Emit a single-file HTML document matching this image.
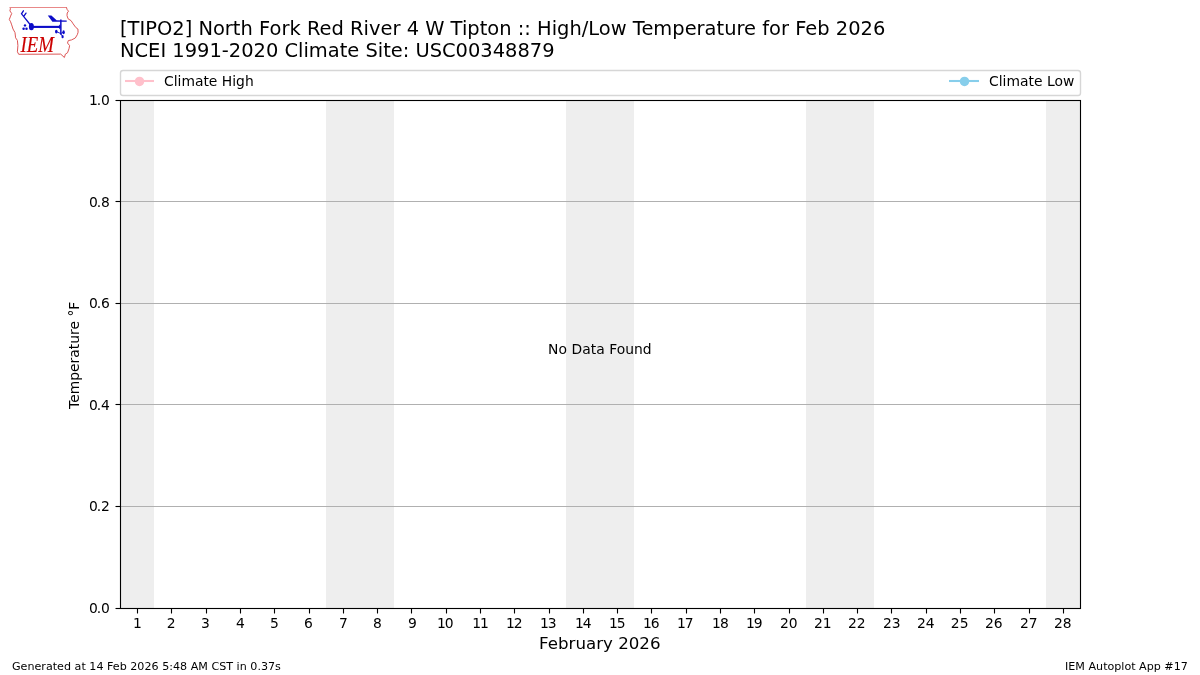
<!DOCTYPE html>
<html lang="en"><head><meta charset="utf-8"><title>IEM Autoplot App #17</title>
<style>html,body{margin:0;padding:0;background:#fff;overflow:hidden;}svg{display:block;}text{font-family:"DejaVu Sans","Liberation Sans",sans-serif;fill:#000;}</style></head><body>
<svg width="1200" height="675" viewBox="0 0 1200 675">
<rect width="1200" height="675" fill="#fff"/>
<rect x="120" y="101" width="34" height="508" fill="#eeeeee"/>
<rect x="326" y="101" width="68" height="508" fill="#eeeeee"/>
<rect x="566" y="101" width="68" height="508" fill="#eeeeee"/>
<rect x="806" y="101" width="68" height="508" fill="#eeeeee"/>
<rect x="1046" y="101" width="34" height="508" fill="#eeeeee"/>
<line x1="120.5" x2="1080.5" y1="506.5" y2="506.5" stroke="#b0b0b0" stroke-width="1.11"/>
<line x1="120.5" x2="1080.5" y1="404.5" y2="404.5" stroke="#b0b0b0" stroke-width="1.11"/>
<line x1="120.5" x2="1080.5" y1="303.5" y2="303.5" stroke="#b0b0b0" stroke-width="1.11"/>
<line x1="120.5" x2="1080.5" y1="201.5" y2="201.5" stroke="#b0b0b0" stroke-width="1.11"/>
<rect x="120.5" y="100.5" width="960.0" height="508.0" fill="none" stroke="#000" stroke-width="1.11"/>
<line x1="115.50" x2="120.5" y1="608.5" y2="608.5" stroke="#000" stroke-width="1.11"/>
<text x="89.0 96.85 101.1" y="613" font-size="13.89">0.0</text>
<line x1="115.50" x2="120.5" y1="506.5" y2="506.5" stroke="#000" stroke-width="1.11"/>
<text x="89.0 96.85 101.1" y="511" font-size="13.89">0.2</text>
<line x1="115.50" x2="120.5" y1="404.5" y2="404.5" stroke="#000" stroke-width="1.11"/>
<text x="89.0 96.85 101.1" y="410" font-size="13.89">0.4</text>
<line x1="115.50" x2="120.5" y1="303.5" y2="303.5" stroke="#000" stroke-width="1.11"/>
<text x="89.0 96.85 101.1" y="308" font-size="13.89">0.6</text>
<line x1="115.50" x2="120.5" y1="201.5" y2="201.5" stroke="#000" stroke-width="1.11"/>
<text x="89.0 96.85 101.1" y="207" font-size="13.89">0.8</text>
<line x1="115.50" x2="120.5" y1="100.5" y2="100.5" stroke="#000" stroke-width="1.11"/>
<text x="89.0 96.85 101.1" y="105" font-size="13.89">1.0</text>
<line x1="137.5" x2="137.5" y1="608.5" y2="613.50" stroke="#000" stroke-width="1.11"/>
<text x="137.37" y="628" font-size="13.89" text-anchor="middle">1</text>
<line x1="171.5" x2="171.5" y1="608.5" y2="613.50" stroke="#000" stroke-width="1.11"/>
<text x="171.23" y="628" font-size="13.89" text-anchor="middle">2</text>
<line x1="206.5" x2="206.5" y1="608.5" y2="613.50" stroke="#000" stroke-width="1.11"/>
<text x="205.50" y="628" font-size="13.89" text-anchor="middle">3</text>
<line x1="240.5" x2="240.5" y1="608.5" y2="613.50" stroke="#000" stroke-width="1.11"/>
<text x="240.44" y="628" font-size="13.89" text-anchor="middle">4</text>
<line x1="274.5" x2="274.5" y1="608.5" y2="613.50" stroke="#000" stroke-width="1.11"/>
<text x="274.42" y="628" font-size="13.89" text-anchor="middle">5</text>
<line x1="309.5" x2="309.5" y1="608.5" y2="613.50" stroke="#000" stroke-width="1.11"/>
<text x="308.46" y="628" font-size="13.89" text-anchor="middle">6</text>
<line x1="343.5" x2="343.5" y1="608.5" y2="613.50" stroke="#000" stroke-width="1.11"/>
<text x="343.34" y="628" font-size="13.89" text-anchor="middle">7</text>
<line x1="377.5" x2="377.5" y1="608.5" y2="613.50" stroke="#000" stroke-width="1.11"/>
<text x="377.49" y="628" font-size="13.89" text-anchor="middle">8</text>
<line x1="411.5" x2="411.5" y1="608.5" y2="613.50" stroke="#000" stroke-width="1.11"/>
<text x="412.42" y="628" font-size="13.89" text-anchor="middle">9</text>
<line x1="446.5" x2="446.5" y1="608.5" y2="613.50" stroke="#000" stroke-width="1.11"/>
<text x="436.99 444.83" y="628" font-size="13.89">10</text>
<line x1="480.5" x2="480.5" y1="608.5" y2="613.50" stroke="#000" stroke-width="1.11"/>
<text x="472.16 480.00" y="628" font-size="13.89">11</text>
<line x1="514.5" x2="514.5" y1="608.5" y2="613.50" stroke="#000" stroke-width="1.11"/>
<text x="505.96 513.80" y="628" font-size="13.89">12</text>
<line x1="549.5" x2="549.5" y1="608.5" y2="613.50" stroke="#000" stroke-width="1.11"/>
<text x="539.99 547.83" y="628" font-size="13.89">13</text>
<line x1="583.5" x2="583.5" y1="608.5" y2="613.50" stroke="#000" stroke-width="1.11"/>
<text x="575.02 582.86" y="628" font-size="13.89">14</text>
<line x1="617.5" x2="617.5" y1="608.5" y2="613.50" stroke="#000" stroke-width="1.11"/>
<text x="609.03 616.87" y="628" font-size="13.89">15</text>
<line x1="651.5" x2="651.5" y1="608.5" y2="613.50" stroke="#000" stroke-width="1.11"/>
<text x="643.03 650.87" y="628" font-size="13.89">16</text>
<line x1="686.5" x2="686.5" y1="608.5" y2="613.50" stroke="#000" stroke-width="1.11"/>
<text x="677.03 684.87" y="628" font-size="13.89">17</text>
<line x1="720.5" x2="720.5" y1="608.5" y2="613.50" stroke="#000" stroke-width="1.11"/>
<text x="712.08 719.92" y="628" font-size="13.89">18</text>
<line x1="754.5" x2="754.5" y1="608.5" y2="613.50" stroke="#000" stroke-width="1.11"/>
<text x="746.00 753.84" y="628" font-size="13.89">19</text>
<line x1="789.5" x2="789.5" y1="608.5" y2="613.50" stroke="#000" stroke-width="1.11"/>
<text x="788.81" y="628" font-size="13.89" text-anchor="middle">20</text>
<line x1="823.5" x2="823.5" y1="608.5" y2="613.50" stroke="#000" stroke-width="1.11"/>
<text x="822.71" y="628" font-size="13.89" text-anchor="middle">21</text>
<line x1="857.5" x2="857.5" y1="608.5" y2="613.50" stroke="#000" stroke-width="1.11"/>
<text x="856.72" y="628" font-size="13.89" text-anchor="middle">22</text>
<line x1="891.5" x2="891.5" y1="608.5" y2="613.50" stroke="#000" stroke-width="1.11"/>
<text x="891.73" y="628" font-size="13.89" text-anchor="middle">23</text>
<line x1="926.5" x2="926.5" y1="608.5" y2="613.50" stroke="#000" stroke-width="1.11"/>
<text x="925.81" y="628" font-size="13.89" text-anchor="middle">24</text>
<line x1="960.5" x2="960.5" y1="608.5" y2="613.50" stroke="#000" stroke-width="1.11"/>
<text x="959.70" y="628" font-size="13.89" text-anchor="middle">25</text>
<line x1="994.5" x2="994.5" y1="608.5" y2="613.50" stroke="#000" stroke-width="1.11"/>
<text x="993.76" y="628" font-size="13.89" text-anchor="middle">26</text>
<line x1="1029.5" x2="1029.5" y1="608.5" y2="613.50" stroke="#000" stroke-width="1.11"/>
<text x="1028.81" y="628" font-size="13.89" text-anchor="middle">27</text>
<line x1="1063.5" x2="1063.5" y1="608.5" y2="613.50" stroke="#000" stroke-width="1.11"/>
<text x="1062.85" y="628" font-size="13.89" text-anchor="middle">28</text>
<text x="599.8" y="648.6" font-size="16.67" text-anchor="middle">February 2026</text>
<text transform="translate(79,355.3) rotate(-90)" font-size="13.89" text-anchor="middle">Temperature °F</text>
<text x="548.1" y="354" font-size="13.89" textLength="103.5">No Data Found</text>
<text x="120" y="35" font-size="19.44" textLength="765.3">[TIPO2] North Fork Red River 4 W Tipton :: High/Low Temperature for Feb 2026</text>
<text x="120" y="56.8" font-size="19.44">NCEI 1991-2020 Climate Site: USC00348879</text>
<rect x="120.5" y="70.5" width="960" height="25" rx="2.6" ry="2.6" fill="#fff" stroke="#cccccc" stroke-opacity="0.8" stroke-width="1.39"/>
<line x1="125" x2="154" y1="81" y2="81" stroke="#ffc0cb" stroke-width="2.08"/><circle cx="139.5" cy="81.4" r="4.75" fill="#ffc0cb"/>
<text x="164.0" y="86.2" font-size="13.89">Climate High</text>
<line x1="949" x2="979" y1="81" y2="81" stroke="#87ceeb" stroke-width="2.08"/><circle cx="964.5" cy="81.4" r="4.75" fill="#87ceeb"/>
<text x="989.0" y="86.2" font-size="13.89" textLength="85.3">Climate Low</text>
<text x="12" y="669.8" font-size="11.11" textLength="268.9">Generated at 14 Feb 2026 5:48 AM CST in 0.37s</text>
<text x="1187.8" y="669.8" font-size="11.11" text-anchor="end">IEM Autoplot App #17</text>
<g id="logo">
<path d="M66.5,7.4 L67,9.3 L68.5,11.2 L67.2,13 L67,15.6 L68,18.7 L71.1,20.7 L73.2,23.9 L75.8,27.5 L77.9,29 L78.1,32.2 L77.3,34.7 L75.3,38 L71.6,39.9 L68.3,40.6 L67.5,43 L69.6,45.6 L69,48.7 L67.5,52.8 L65.4,54.1 L64.4,57.5 L60.7,54.1 L18.7,54.3 L17.4,51.8 L17.9,45.6 L17.4,40.4 L15.6,37.8 L15,32.6 L13,29 L11.7,24.9 L10.6,21.8 L9.3,19.5 L10.6,16.1 L11.7,13.5 L9.9,10.9 L10.4,8.8 L10.1,7.4" fill="none" stroke="#db5252" stroke-width="0.98" stroke-linejoin="round" stroke-linecap="round"/>
<line x1="10.1" y1="7.45" x2="66.5" y2="7.45" stroke="#e88888" stroke-width="1.15"/>
<g fill="#0c0cc8" stroke="none">
<ellipse cx="31.4" cy="26.7" rx="2.5" ry="3.6"/>
<rect x="31" y="25.85" width="29.7" height="2.1"/>
<circle cx="25" cy="25.4" r="1.2"/><circle cx="23.6" cy="28.8" r="1.25"/><circle cx="26.5" cy="28.8" r="1.25"/>
<path d="M47.8,15.5 L51.4,15.5 L56.6,20.3 L66.7,20.45 L66.7,21.7 L52.4,21.7 Z"/>
<path d="M57.0,26.9 Q59.4,26.2 60.2,24.0 L60.2,29.8 Q59.4,27.6 57.0,26.9 Z"/>
<rect x="60.1" y="19.5" width="1.5" height="15.2"/>
<ellipse cx="56.3" cy="31.6" rx="1.3" ry="1.9"/><ellipse cx="63.6" cy="32.2" rx="1.2" ry="2"/><ellipse cx="62.6" cy="36.7" rx="1.1" ry="1.6"/>
</g>
<g fill="none" stroke="#0c0cc8" stroke-width="1.3" stroke-linecap="round">
<path d="M30.5,25 L21.5,13.8 L23.4,10.8 M24.1,15.9 L26,13.1"/>
</g>
<g fill="none" stroke="#0c0cc8" stroke-width="0.9">
<path d="M56.3,31.6 L60.7,33.5 L63.6,32.2 M60.7,33.5 L62.6,36.7"/>
</g>
<text x="20.4" y="51.6" font-style="italic" font-size="22.5" style="font-family:'Liberation Serif','DejaVu Serif',serif;fill:#cc0000" textLength="33.4" stroke="#cc0000" stroke-width="0.15" lengthAdjust="spacingAndGlyphs">IEM</text>
</g>

</svg></body></html>
